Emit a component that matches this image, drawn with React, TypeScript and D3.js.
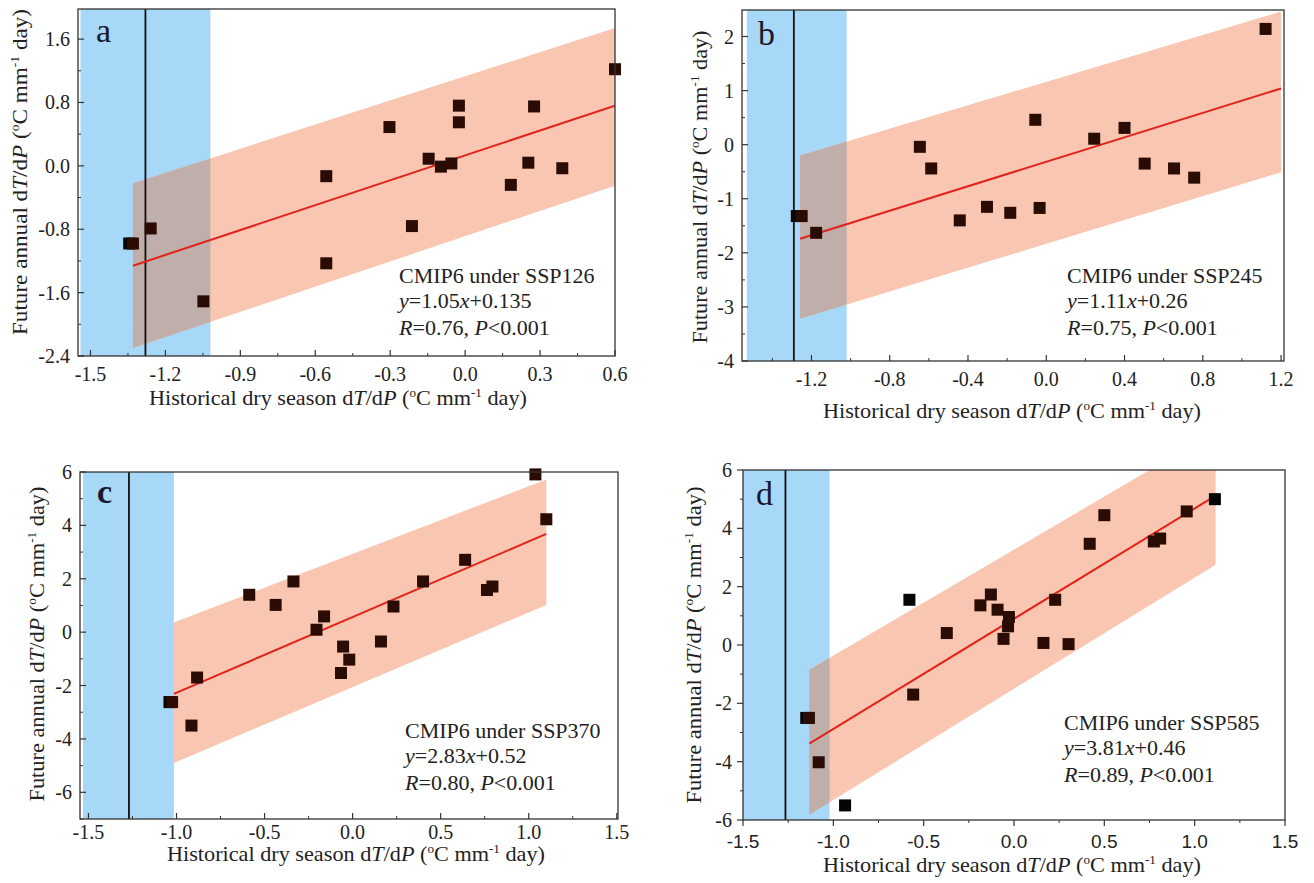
import React from 'react';
import * as d3 from 'd3';

// ---- data ----
// a: SSP126
const aX = [-1.345, -1.33, -1.259, -1.048, -0.556, -0.556, -0.303, -0.213, -0.146, -0.097, -0.055, -0.025, -0.025, 0.183, 0.253, 0.276, 0.389, 0.6];
const aY = [-0.98, -0.98, -0.79, -1.71, -0.13, -1.23, 0.49, -0.76, 0.09, -0.01, 0.03, 0.76, 0.55, -0.24, 0.04, 0.75, -0.03, 1.22];
// b: SSP245
const bX = [-1.275, -1.25, -1.176, -0.646, -0.588, -0.442, -0.303, -0.184, -0.056, -0.034, 0.245, 0.4, 0.503, 0.653, 0.756, 1.121];
const bY = [-1.32, -1.32, -1.63, -0.04, -0.44, -1.4, -1.15, -1.26, 0.46, -1.17, 0.11, 0.31, -0.35, -0.44, -0.61, 2.14];
// c: SSP370
const cX = [-1.04, -1.025, -0.915, -0.883, -0.587, -0.437, -0.336, -0.205, -0.162, -0.066, -0.054, -0.019, 0.161, 0.232, 0.4, 0.639, 0.763, 0.794, 1.038, 1.1];
const cY = [-2.62, -2.62, -3.5, -1.7, 1.4, 1.02, 1.9, 0.09, 0.59, -1.53, -0.54, -1.03, -0.35, 0.96, 1.9, 2.71, 1.58, 1.71, 5.91, 4.23];
// d: SSP585
const dX = [-1.15, -1.135, -1.081, -0.935, -0.579, -0.558, -0.372, -0.186, -0.128, -0.091, -0.058, -0.033, -0.028, 0.163, 0.228, 0.302, 0.419, 0.5, 0.774, 0.809, 0.956, 1.112];
const dY = [-2.5, -2.5, -4.02, -5.5, 1.55, -1.7, 0.41, 1.36, 1.73, 1.21, 0.21, 0.64, 0.96, 0.07, 1.55, 0.03, 3.47, 4.45, 3.55, 3.65, 4.58, 5.0];
const blackPts: Record<string, number[]> = { a: [0], b: [0], c: [0], d: [0, 3, 4, 21] };

// fitted lines (endpoints) and 95% bands
const aFit = [[-1.33, -1.26], [0.6, 0.76]];
const bFit = [[-1.258, -1.74], [1.2, 1.04]];
const cFit = [[-1.015, -2.31], [1.1, 3.68]];
const dFit = [[-1.133, -3.38], [1.116, 5.12]];
const aBandX = [-1.33, 0.6], aBandUp = [-0.22, 1.74], aBandLo = [-2.3, -0.25];
const bBandX = [-1.258, 1.2], bBandUp = [-0.2, 2.46], bBandLo = [-3.22, -0.51];
const cBandX = [-1.015, 1.1], cBandUp = [0.36, 5.72], cBandLo = [-4.9, 1.02];
const dBandX = [-1.133, 1.116], dBandUp = [-0.85, 7.33], dBandLo = [-5.82, 2.75];

// observed (blue) range and its central value
const aObs = [-1.54, -1.02], aObsMid = -1.28;
const bObs = [-1.53, -1.02], bObsMid = -1.29;
const cObs = [-1.531, -1.015], cObsMid = -1.27;
const dObs = [-1.5, -1.021], dObsMid = -1.265;

const aXTicks = [-1.5, -1.2, -0.9, -0.6, -0.3, 0, 0.3, 0.6];
const aYTicks = [-2.4, -1.6, -0.8, 0, 0.8, 1.6];
const bXTicks = [-1.2, -0.8, -0.4, 0, 0.4, 0.8, 1.2];
const bYTicks = [-4, -3, -2, -1, 0, 1, 2];
const cXTicks = [-1.5, -1.0, -0.5, 0, 0.5, 1.0, 1.5];
const cYTicks = [-6, -4, -2, 0, 2, 4, 6];
const dXTicks = [-1.5, -1.0, -0.5, 0, 0.5, 1.0, 1.5];
const dYTicks = [-6, -4, -2, 0, 2, 4, 6];

const scenarios = ['SSP126', 'SSP245', 'SSP370', 'SSP585'];
const equations = [['1.05', '0.135'], ['1.11', '0.26'], ['2.83', '0.52'], ['3.81', '0.46']];
const rValues = ['0.76', '0.75', '0.80', '0.89'];

const SERIF = 'Liberation Serif, Times New Roman, serif';
const SANS = 'Liberation Sans, Arial, sans-serif';

const panels = [
  { id: 'a', x: aX, y: aY, fit: aFit, bx: aBandX, bu: aBandUp, bl: aBandLo, obs: aObs, mid: aObsMid, xt: aXTicks, yt: aYTicks, yFmt: (v: number) => v.toFixed(1),
    left: 78, right: 615, top: 9, bottom: 356, xd: [-1.55, 0.6], yd: [-2.4, 1.98], out: false,
    letter: [96, 42], stat: [399, 283], xlab: [338, 405], ylab: [27, 172], ylen: 326, xtBase: 381, xSans: false, bold: false },
  { id: 'b', x: bX, y: bY, fit: bFit, bx: bBandX, bu: bBandUp, bl: bBandLo, obs: bObs, mid: bObsMid, xt: bXTicks, yt: bYTicks, yFmt: (v: number) => String(v),
    left: 742, right: 1284, top: 10, bottom: 361, xd: [-1.555, 1.215], yd: [-4, 2.49], out: false,
    letter: [758, 45], stat: [1067, 283], xlab: [1012, 418], ylab: [707, 187], ylen: 313, xtBase: 386, xSans: false, bold: false },
  { id: 'c', x: cX, y: cY, fit: cFit, bx: cBandX, bu: cBandUp, bl: cBandLo, obs: cObs, mid: cObsMid, xt: cXTicks, yt: cYTicks, yFmt: (v: number) => String(v),
    left: 80, right: 618, top: 472, bottom: 819, xd: [-1.548, 1.507], yd: [-7, 6], out: false,
    letter: [97, 503], stat: [405, 738], xlab: [356, 861], ylab: [44, 644], ylen: 315, xtBase: 839, xSans: false, bold: true },
  { id: 'd', x: dX, y: dY, fit: dFit, bx: dBandX, bu: dBandUp, bl: dBandLo, obs: dObs, mid: dObsMid, xt: dXTicks, yt: dYTicks, yFmt: (v: number) => String(v),
    left: 743, right: 1285, top: 470, bottom: 820, xd: [-1.5, 1.5], yd: [-6, 6], out: true,
    letter: [756, 505], stat: [1064, 730], xlab: [1012, 872], ylab: [701, 645], ylen: 317, xtBase: 848, xSans: true, bold: false },
];

const minors = (ticks: number[], dom: number[]) => {
  const step = ticks[1] - ticks[0];
  const out: number[] = [];
  for (let i = -1; i < ticks.length; i++) {
    const v = ticks[0] + step * (i + 0.5);
    if (v >= Math.min(...dom) - 1e-9 && v <= Math.max(...dom) + 1e-9) out.push(v);
  }
  return out;
};

const Unit = () => (
  <>
    {' ('}
    <tspan fontSize="13" dy="-8">o</tspan>
    <tspan dy="8">C mm</tspan>
    <tspan fontSize="13" dy="-8">-1</tspan>
    <tspan dy="8">{' day)'}</tspan>
  </>
);

const Panel = ({ p, i }: { p: any; i: number }) => {
  const x = d3.scaleLinear().domain(p.xd).range([p.left, p.right]);
  const y = d3.scaleLinear().domain(p.yd).range([p.bottom, p.top]);
  const w = p.right - p.left, h = p.bottom - p.top;
  const band = [
    [p.bx[0], p.bl[0]], [p.bx[0], p.bu[0]], [p.bx[1], p.bu[1]], [p.bx[1], p.bl[1]],
  ];
  const line = d3.line<number[]>().x(d => x(d[0])).y(d => y(d[1]));
  const bandPath = line(band) + 'Z';
  const fitPath = line(p.fit) as string;
  const dir = p.out ? 1 : -1;
  const size = 12;
  const blacks = blackPts[p.id];
  return (
    <g>
      <defs>
        <clipPath id={`plot-${p.id}`}><rect x={p.left} y={p.top} width={w} height={h} /></clipPath>
        <clipPath id={`obs-${p.id}`}><rect x={x(p.obs[0])} y={p.top} width={x(p.obs[1]) - x(p.obs[0])} height={h} /></clipPath>
      </defs>
      <g clipPath={`url(#plot-${p.id})`}>
        <rect x={x(p.obs[0])} y={p.top} width={x(p.obs[1]) - x(p.obs[0])} height={h} fill="#a7d8f7" />
        <path d={bandPath} fill="#f9c6b1" />
        <path d={bandPath} fill="#bfaeaa" clipPath={`url(#obs-${p.id})`} />
        <line x1={x(p.mid)} x2={x(p.mid)} y1={p.top} y2={p.bottom} stroke="#111" strokeWidth={1.8} />
        <path d={fitPath} fill="none" stroke="#e2231c" strokeWidth={2} />
      </g>
      {p.x.map((v: number, k: number) => (
        <rect key={k} x={x(v) - size / 2} y={y(p.y[k]) - size / 2} width={size} height={size}
          fill={blacks.includes(k) ? '#050505' : '#2b0c05'} />
      ))}
      <rect x={p.left} y={p.top} width={w} height={h} fill="none" stroke="#333" strokeWidth={1.3} />
      {/* x ticks */}
      {p.xt.map((v: number) => (
        <g key={'xt' + v}>
          <line x1={x(v)} x2={x(v)} y1={p.bottom} y2={p.bottom + dir * 6} stroke="#333" strokeWidth={1.2} />
          <text x={x(v)} y={p.xtBase} textAnchor="middle" fontFamily={p.xSans ? SANS : SERIF}
            fontSize={p.xSans ? 19 : 20} fill="#222">{v.toFixed(1)}</text>
        </g>
      ))}
      {minors(p.xt, p.xd).map((v: number) => (
        <line key={'xm' + v} x1={x(v)} x2={x(v)} y1={p.bottom} y2={p.bottom + dir * 3} stroke="#333" strokeWidth={1} />
      ))}
      {/* y ticks */}
      {p.yt.map((v: number) => (
        <g key={'yt' + v}>
          <line x1={p.left} x2={p.left - dir * 6} y1={y(v)} y2={y(v)} stroke="#333" strokeWidth={1.2} />
          <text x={p.left - (p.out ? 11 : 8)} y={y(v) + 7} textAnchor="end" fontFamily={SERIF} fontSize={20} fill="#222">{p.yFmt(v)}</text>
        </g>
      ))}
      {minors(p.yt, p.yd).map((v: number) => (
        <line key={'ym' + v} x1={p.left} x2={p.left - dir * 3} y1={y(v)} y2={y(v)} stroke="#333" strokeWidth={1} />
      ))}
      {/* panel letter */}
      <text x={p.letter[0]} y={p.letter[1]} fontFamily={SERIF} fontSize={34} fontWeight={p.bold ? 'bold' : 'normal'} fill="#1a1a2e">{p.id}</text>
      {/* statistics */}
      <g fontFamily={SERIF} fontSize={22} fill="#222">
        <text x={p.stat[0]} y={p.stat[1]}>CMIP6 under {scenarios[i]}</text>
        <text x={p.stat[0]} y={p.stat[1] + 25}>
          <tspan fontStyle="italic">y</tspan>={equations[i][0]}<tspan fontStyle="italic">x</tspan>+{equations[i][1]}
        </text>
        <text x={p.stat[0]} y={p.stat[1] + 52}>
          <tspan fontStyle="italic">R</tspan>={rValues[i]}, <tspan fontStyle="italic">P</tspan>{'<0.001'}
        </text>
      </g>
      {/* axis titles */}
      <text x={p.xlab[0]} y={p.xlab[1]} textAnchor="middle" fontFamily={SERIF} fontSize={22} fill="#222"
        textLength={378} lengthAdjust="spacingAndGlyphs">
        Historical dry season d<tspan fontStyle="italic">T</tspan>/d<tspan fontStyle="italic">P</tspan>
        <Unit />
      </text>
      <text transform={`translate(${p.ylab[0]},${p.ylab[1]}) rotate(-90)`} textAnchor="middle" fontFamily={SERIF}
        fontSize={22} fill="#222" textLength={p.ylen} lengthAdjust="spacingAndGlyphs">
        Future annual d<tspan fontStyle="italic">T</tspan>/d<tspan fontStyle="italic">P</tspan>
        <Unit />
      </text>
    </g>
  );
};

export default function App() {
  return (
    <svg width={1314} height={883} style={{ position: 'absolute', left: 0, top: 0, background: '#fff', fontFamily: SERIF }}>
      <rect width={1314} height={883} fill="#fff" />
      {panels.map((p, i) => <Panel key={p.id} p={p} i={i} />)}
    </svg>
  );
}
